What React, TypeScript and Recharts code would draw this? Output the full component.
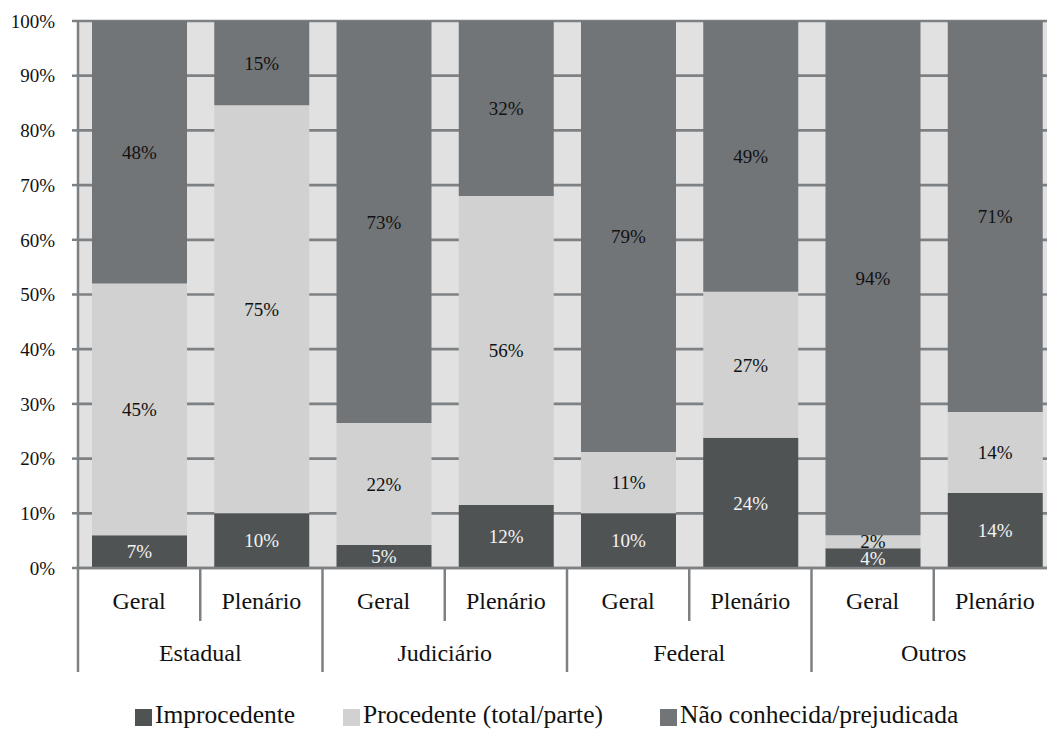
import { BarChart, Bar, XAxis, YAxis, CartesianGrid, Legend, LabelList } from 'recharts'

const subCategories = ['Geral', 'Plenário', 'Geral', 'Plenário', 'Geral', 'Plenário', 'Geral', 'Plenário']
const groups = ['Estadual', 'Estadual', 'Judiciário', 'Judiciário', 'Federal', 'Federal', 'Outros', 'Outros']

const improcedente = [6, 10, 4.2, 11.5, 10, 23.8, 3.6, 13.7]
const procedente = [46, 74.6, 22.3, 56.5, 11.2, 26.7, 2.4, 14.8]
const naoConhecida = [48, 15.4, 73.5, 32, 78.8, 49.5, 94, 71.5]

const improcedenteLabels = ['7%', '10%', '5%', '12%', '10%', '24%', '4%', '14%']
const procedenteLabels = ['45%', '75%', '22%', '56%', '11%', '27%', '2%', '14%']
const naoConhecidaLabels = ['48%', '15%', '73%', '32%', '79%', '49%', '94%', '71%']

const yTicks = [0, 10, 20, 30, 40, 50, 60, 70, 80, 90, 100]

const series = [
  { key: 'improcedente', label: 'improcedenteLabel', name: 'Improcedente', color: '#4f5354', text: '#f4f4f4', w: 208 },
  { key: 'procedente', label: 'procedenteLabel', name: 'Procedente (total/parte)', color: '#d0d1d0', text: '#111', w: 317 },
  { key: 'naoConhecida', label: 'naoConhecidaLabel', name: 'Não conhecida/prejudicada', color: '#727578', text: '#111', w: 320 },
]

const data = subCategories.map((sub, i) => ({
  id: i,
  sub,
  group: groups[i],
  improcedente: improcedente[i],
  procedente: procedente[i],
  naoConhecida: naoConhecida[i],
  improcedenteLabel: improcedenteLabels[i],
  procedenteLabel: procedenteLabels[i],
  naoConhecidaLabel: naoConhecidaLabels[i],
}))

const FONT = "'Liberation Serif', 'Times New Roman', 'DejaVu Serif'"
const GRID = '#7e8183'
const WIDTH = 1060
const MARGIN = { top: 21, right: 4, left: 0, bottom: 0 }
const Y_WIDTH = 78
const BAND = (WIDTH - MARGIN.left - MARGIN.right - Y_WIDTH) / subCategories.length

function SubTick(props: any) {
  const { x, y, payload, index } = props
  const left = x - BAND / 2
  return (
    <g>
      <line x1={left} x2={left} y1={y - 1} y2={index % 2 === 0 ? y + 104 : y + 53} stroke={GRID} strokeWidth={2.5} />
      <text x={x} y={y + 33} textAnchor="middle" dominantBaseline="central" fontFamily={FONT} fontSize={24} fill="#111">
        {payload.value}
      </text>
    </g>
  )
}

function GroupTick(props: any) {
  const { x, y, payload, index } = props
  if (index % 2 !== 0) return <g />
  return (
    <text x={x + BAND / 2} y={y + 33} textAnchor="middle" dominantBaseline="central" fontFamily={FONT} fontSize={24} fill="#111">
      {payload.value}
    </text>
  )
}

function LegendContent() {
  return (
    <div style={{ height: 57, paddingTop: 29, paddingLeft: 135, boxSizing: 'border-box', display: 'flex', fontFamily: FONT, fontSize: 25.5, lineHeight: '24px', color: '#111' }}>
      {series.map((s) => (
        <div key={s.key} style={{ display: 'flex', alignItems: 'center', width: s.w, flexShrink: 0, whiteSpace: 'nowrap' }}>
          <span style={{ display: 'inline-block', width: 17, height: 17, background: s.color, marginRight: 3, marginTop: 5 }} />
          <span>{s.name}</span>
        </div>
      ))}
    </div>
  )
}

export default function App() {
  return (
    <div style={{ position: 'fixed', top: 0, left: 0, width: 1047, height: 729, overflow: 'hidden', background: '#fff' }}>
      <BarChart width={WIDTH} height={729} data={data} margin={MARGIN}>
        <CartesianGrid fill="#e1e1e1" stroke={GRID} strokeWidth={2.7} vertical={false} />
        <XAxis
          dataKey="sub"
          height={52}
          interval={0}
          tickSize={0}
          tickMargin={0}
          tickLine={false}
          axisLine={{ stroke: GRID, strokeWidth: 2.5 }}
          tick={<SubTick />}
        />
        <XAxis
          xAxisId="group"
          dataKey="group"
          height={52}
          interval={0}
          tickSize={0}
          tickMargin={0}
          tickLine={false}
          axisLine={false}
          tick={<GroupTick />}
        />
        <YAxis
          width={Y_WIDTH}
          domain={[0, 100]}
          ticks={yTicks}
          tickFormatter={(v) => `${v}%`}
          tickSize={6}
          tickMargin={17}
          interval={0}
          axisLine={{ stroke: GRID, strokeWidth: 2.5 }}
          tickLine={{ stroke: GRID, strokeWidth: 2.5 }}
          tick={{ fill: '#111', fontSize: 19, fontFamily: FONT }}
        />
        <Legend verticalAlign="bottom" content={<LegendContent />} />
        {series.map((s) => (
          <Bar key={s.key} dataKey={s.key} name={s.name} stackId="a" fill={s.color} barSize={95} isAnimationActive={false}>
            <LabelList dataKey={s.label} position="center" fill={s.text} fontSize={19} fontFamily={FONT} />
          </Bar>
        ))}
      </BarChart>
    </div>
  )
}
